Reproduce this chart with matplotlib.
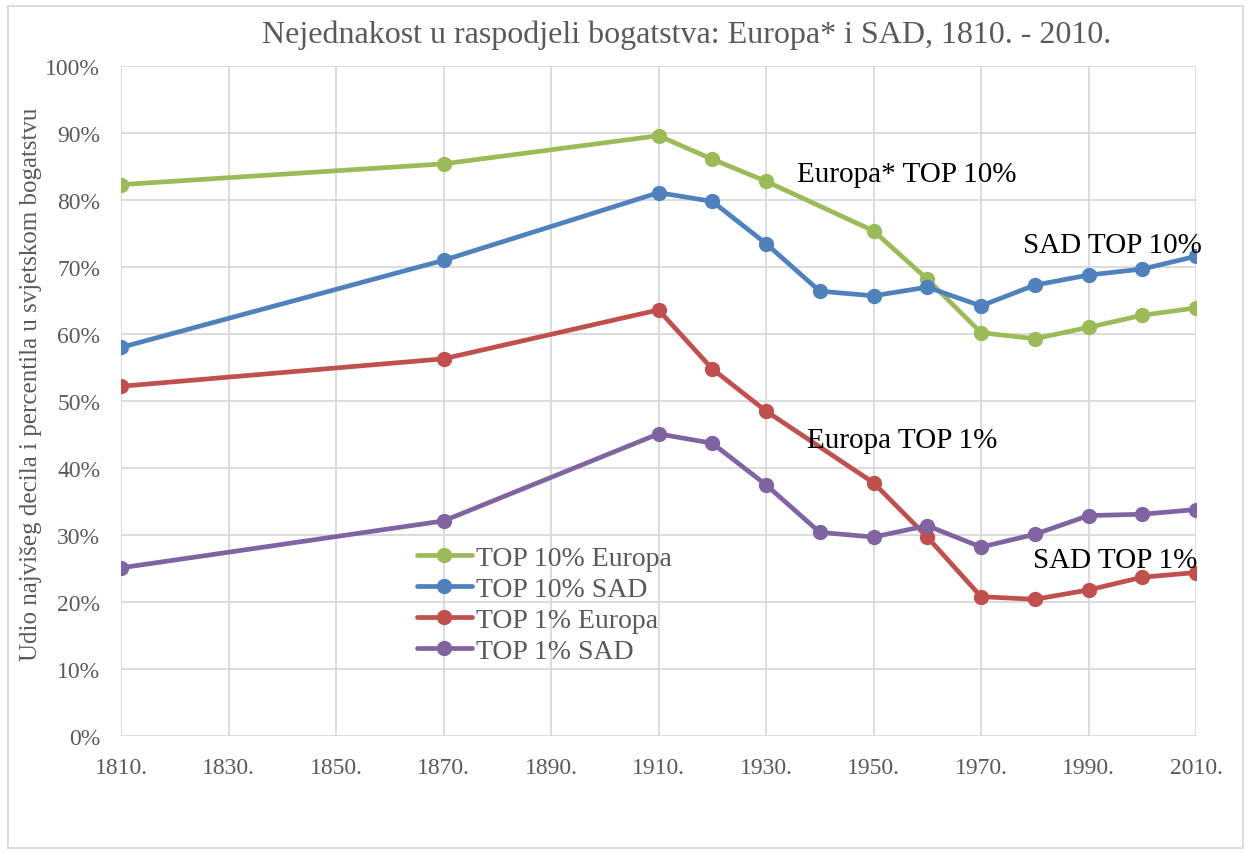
import matplotlib
matplotlib.use('Agg')
from matplotlib import pyplot as plt
from matplotlib.patches import Rectangle
from matplotlib.ticker import FuncFormatter

plt.rcParams['font.family'] = ['Liberation Serif', 'DejaVu Serif']

years_eu = [1810, 1870, 1910, 1920, 1930, 1950, 1960, 1970, 1980, 1990, 2000, 2010]
years_us = [1810, 1870, 1910, 1920, 1930, 1940, 1950, 1960, 1970, 1980, 1990, 2000, 2010]

top10_eu = [82.3, 85.4, 89.6, 86.1, 82.8, 75.4, 68.2, 60.2, 59.3, 61.0, 62.8, 63.9]
top10_us = [58.0, 71.0, 81.1, 79.8, 73.5, 66.4, 65.7, 67.0, 64.2, 67.3, 68.8, 69.7, 71.6]
top1_eu = [52.2, 56.3, 63.6, 54.8, 48.5, 37.8, 29.7, 20.8, 20.4, 21.8, 23.7, 24.4]
top1_us = [25.1, 32.1, 45.1, 43.7, 37.5, 30.4, 29.7, 31.4, 28.2, 30.1, 32.9, 33.1, 33.8]

series = [
    ('TOP 10% Europa', years_eu, top10_eu, '#9BBB59'),
    ('TOP 10% SAD', years_us, top10_us, '#4F81BD'),
    ('TOP 1% Europa', years_eu, top1_eu, '#C0504D'),
    ('TOP 1% SAD', years_us, top1_us, '#8064A2'),
]

# text labels on the chart (x = year, y = baseline in %)
labels = [
    ('Europa* TOP 10%', 1935.8, 82.8),
    ('SAD TOP 10%', 1977.8, 72.2),
    ('Europa TOP 1%', 1937.6, 43.1),
    ('SAD TOP 1%', 1979.7, 25.2),
]

fig = plt.figure(figsize=(12.5, 8.54), dpi=100)
ax = fig.add_axes([0.0968, 0.137, 0.86, 0.7845])

for name, xs, ys, col in series:
    ax.plot(xs, ys, color=col, lw=3.4, marker='o', ms=10, label=name,
            solid_capstyle='round', zorder=3)

for txt, x, y in labels:
    ax.text(x, y, txt, fontsize=21, color='black', va='baseline', ha='left', zorder=4)

ax.set_xlim(1810, 2010)
ax.set_ylim(0, 100)
ax.set_xticks(range(1810, 2011, 20))
ax.set_yticks(range(0, 101, 10))
ax.xaxis.set_major_formatter(FuncFormatter(lambda v, p: f'{int(v)}.'))
ax.yaxis.set_major_formatter(FuncFormatter(lambda v, p: f'{int(v)}%'))
ax.tick_params(length=0, labelsize=17, labelcolor='#595959')
ax.tick_params(axis='x', pad=15)
ax.tick_params(axis='y', pad=15)
ax.grid(True, color='#D9D9D9', lw=1.3)
ax.set_axisbelow(True)
for s in ax.spines.values():
    s.set_visible(False)

fig.text(31 / 1250, 1 - 384 / 854,
         'Udio najvišeg decila i percentila u svjetskom bogatstvu',
         rotation=90, ha='center', va='center', fontsize=18, color='#595959')
fig.text(687 / 1250, 1 - 43 / 854,
         'Nejednakost u raspodjeli bogatstva: Europa* i SAD, 1810. - 2010.',
         ha='center', va='baseline', fontsize=23, color='#595959')

ax.legend(loc='upper left', bbox_to_anchor=(0.275, 0.285), frameon=False,
          fontsize=20, labelcolor='#595959', handlelength=2.0,
          handletextpad=0.15, labelspacing=0.2, borderpad=0, borderaxespad=0)

fig.patches.append(Rectangle((0.006, 0.006), 0.988, 0.986, transform=fig.transFigure,
                             fill=False, edgecolor='#D9D9D9', lw=1.3))

plt.savefig('out.png', dpi=100)
plt.close()
